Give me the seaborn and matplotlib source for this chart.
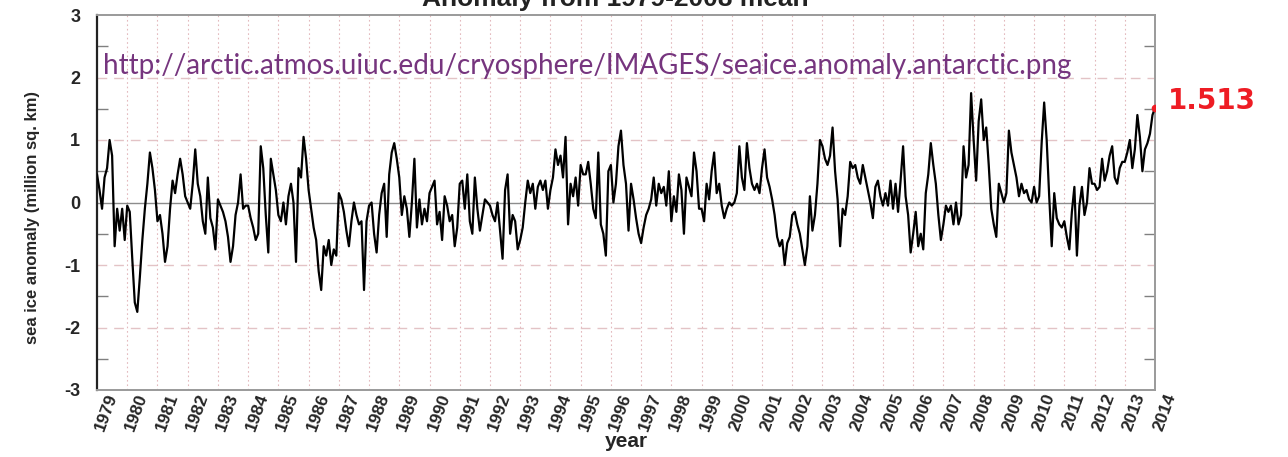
import matplotlib
matplotlib.use("Agg")
import matplotlib.pyplot as plt
import matplotlib.transforms as mtransforms
from matplotlib.ticker import MultipleLocator
import numpy as np
import pandas as pd
import seaborn as sns

# Antarctic sea ice extent anomaly (million sq. km), monthly, 1979-2013, plus the latest value
anomaly = [
    0.45, 0.2, -0.1, 0.4, 0.55, 1.0, 0.75, -0.7, -0.1, -0.45, -0.1, -0.6,      # 1979
    -0.05, -0.15, -0.9, -1.6, -1.75, -1.2, -0.6, -0.1, 0.3, 0.8, 0.55, 0.2,    # 1980
    -0.3, -0.2, -0.5, -0.95, -0.7, -0.1, 0.35, 0.15, 0.45, 0.7, 0.45, 0.1,     # 1981
    0.0, -0.1, 0.3, 0.85, 0.3, 0.1, -0.3, -0.5, 0.4, -0.25, -0.4, -0.75,       # 1982
    0.05, -0.05, -0.15, -0.3, -0.55, -0.95, -0.7, -0.2, 0.0, 0.45, -0.1, -0.05,  # 1983
    -0.05, -0.25, -0.4, -0.6, -0.5, 0.9, 0.55, -0.2, -0.8, 0.7, 0.45, 0.2,     # 1984
    -0.2, -0.3, 0.0, -0.35, 0.1, 0.3, 0.0, -0.95, 0.55, 0.4, 1.05, 0.7,        # 1985
    0.2, -0.1, -0.4, -0.6, -1.1, -1.4, -0.7, -0.85, -0.6, -1.0, -0.75, -0.85,  # 1986
    0.15, 0.05, -0.15, -0.45, -0.7, -0.3, 0.0, -0.2, -0.35, -0.3, -1.4, -0.3,  # 1987
    -0.05, 0.0, -0.5, -0.8, -0.2, 0.15, 0.3, -0.55, 0.45, 0.8, 0.95, 0.7,      # 1988
    0.4, -0.2, 0.1, -0.1, -0.55, 0.0, 0.7, -0.4, 0.05, -0.35, -0.1, -0.3,      # 1989
    0.15, 0.25, 0.35, -0.35, -0.15, -0.6, 0.1, -0.05, -0.3, -0.2, -0.7, -0.4,  # 1990
    0.3, 0.35, -0.1, 0.45, -0.3, -0.5, 0.4, -0.1, -0.45, -0.2, 0.05, 0.0,      # 1991
    -0.05, -0.2, -0.3, 0.0, -0.45, -0.9, 0.2, 0.45, -0.5, -0.2, -0.3, -0.75,   # 1992
    -0.6, -0.4, 0.0, 0.35, 0.15, 0.3, -0.1, 0.25, 0.35, 0.2, 0.35, -0.1,       # 1993
    0.2, 0.4, 0.85, 0.6, 0.75, 0.4, 1.05, -0.35, 0.3, 0.1, 0.4, -0.05,         # 1994
    0.6, 0.45, 0.45, 0.65, 0.3, -0.1, -0.25, 0.8, -0.35, -0.5, -0.85, 0.5,     # 1995
    0.6, 0.0, 0.3, 0.9, 1.15, 0.6, 0.3, -0.45, 0.3, 0.05, -0.25, -0.5,         # 1996
    -0.65, -0.4, -0.2, -0.1, 0.05, 0.4, -0.05, 0.3, 0.15, 0.25, -0.05, 0.5,    # 1997
    -0.3, 0.1, -0.15, 0.45, 0.2, -0.5, 0.4, 0.25, 0.1, 0.8, 0.5, -0.1,         # 1998
    -0.1, -0.3, 0.3, 0.05, 0.5, 0.8, 0.15, 0.3, -0.05, -0.25, -0.1, 0.0,       # 1999
    -0.05, 0.0, 0.15, 0.9, 0.4, 0.2, 0.95, 0.55, 0.3, 0.2, 0.3, 0.15,          # 2000
    0.55, 0.85, 0.4, 0.25, 0.05, -0.2, -0.55, -0.7, -0.6, -1.0, -0.65, -0.55,  # 2001
    -0.2, -0.15, -0.35, -0.5, -0.75, -1.0, -0.7, 0.1, -0.45, -0.2, 0.3, 1.0,   # 2002
    0.9, 0.7, 0.6, 0.75, 1.2, 0.5, 0.05, -0.7, -0.1, -0.2, 0.1, 0.65,          # 2003
    0.55, 0.6, 0.4, 0.3, 0.6, 0.4, 0.2, 0.0, -0.25, 0.25, 0.35, 0.1,           # 2004
    -0.05, 0.15, -0.05, 0.35, -0.1, 0.3, -0.15, 0.35, 0.9, 0.1, -0.2, -0.8,    # 2005
    -0.5, -0.15, -0.7, -0.5, -0.75, 0.15, 0.45, 0.95, 0.6, 0.3, -0.2, -0.6,    # 2006
    -0.35, -0.05, -0.15, -0.05, -0.35, 0.0, -0.35, -0.2, 0.9, 0.4, 0.6, 1.75,  # 2007
    1.0, 0.35, 1.3, 1.65, 1.0, 1.2, 0.6, -0.1, -0.35, -0.55, 0.3, 0.15,        # 2008
    0.0, 0.15, 1.15, 0.8, 0.6, 0.4, 0.1, 0.3, 0.15, 0.2, 0.05, 0.0,            # 2009
    0.25, 0.0, 0.1, 0.95, 1.6, 1.0, 0.1, -0.7, 0.15, -0.25, -0.35, -0.4,       # 2010
    -0.3, -0.55, -0.75, -0.15, 0.25, -0.85, -0.05, 0.25, -0.2, 0.0, 0.55, 0.3, # 2011
    0.3, 0.2, 0.25, 0.7, 0.35, 0.5, 0.75, 0.9, 0.4, 0.3, 0.55, 0.65,           # 2012
    0.65, 0.8, 1.0, 0.55, 0.85, 1.4, 1.05, 0.5, 0.85, 0.95, 1.1, 1.4,          # 2013
    1.513,                                                                      # 2014
]
latest_value = 1.513
year_ticks = list(range(1979, 2015))
year_labels = [str(y) for y in year_ticks]
y_ticks = [-3, -2, -1, 0, 1, 2, 3]

time = 1979 + np.arange(len(anomaly)) / 12.0
df = pd.DataFrame({"year": time, "anomaly": anomaly})

sns.set_theme(style="white")
plt.rcParams["font.family"] = ["Liberation Sans", "DejaVu Sans"]

W, H = 1288, 457
fig = plt.figure(figsize=(W / 100, H / 100), dpi=100)
ax = fig.add_axes([97 / W, 1 - 390 / H, (1155 - 97) / W, (390 - 15) / H])

# grid: dotted verticals each year, dashed horizontals at whole values
for yr in year_ticks[1:-1]:
    ax.axvline(yr, color="#e3b9bd", lw=0.8, ls=(0, (1.5, 2.5)), zorder=0)
for yv in [-2, -1, 1, 2]:
    ax.axhline(yv, color="#e3c3c6", lw=1.0, ls=(0, (7, 5)), zorder=0)
ax.axhline(0, color="#8c8c8c", lw=1.0, zorder=1)

sns.lineplot(data=df, x="year", y="anomaly", color="black", lw=1.6, ax=ax, zorder=3)
ax.plot([df["year"].iloc[-1]], [latest_value], "o", color="#ee1c24", ms=4.5, zorder=4)

ax.set_xlim(1979, 2014)
ax.set_ylim(-3, 3)
ax.set_yticks(y_ticks)
ax.set_yticklabels([str(v) for v in y_ticks], fontsize=13, fontweight="bold")
ax.yaxis.set_minor_locator(MultipleLocator(0.5))
ax.tick_params(axis="y", which="major", length=0, pad=12)
ax.tick_params(axis="y", which="minor", direction="in", length=8, width=1.0,
               color="#808080", left=True, right=True)
ax.set_xticks(year_ticks)
ax.set_xticklabels(year_labels, rotation=70, ha="right", va="center",
                   rotation_mode="anchor", fontsize=12.5, fontweight="bold")
ax.tick_params(axis="x", length=0, pad=3)
shift = mtransforms.ScaledTranslation(16 / 100, 0, fig.dpi_scale_trans)
for lab in ax.get_xticklabels():
    lab.set_transform(lab.get_transform() + shift)

for side in ["top", "right", "bottom"]:
    ax.spines[side].set_color("#9a9a9a")
    ax.spines[side].set_linewidth(1.4)
ax.spines["left"].set_color("#222222")
ax.spines["left"].set_linewidth(1.6)

ax.set_xlabel("year", fontsize=15, fontweight="bold")
ax.xaxis.set_label_coords(0.5, -0.113)
ax.set_ylabel("sea ice anomaly (million sq. km)", fontsize=12, fontweight="bold")
ax.yaxis.set_label_coords(-0.054, 0.46)

fig.text(615 / W, 1 - 6 / H, "Anomaly from 1979-2008 mean", ha="center",
         va="baseline", fontsize=19, fontweight="bold", color="#222222")
fig.text(103 / W, 1 - 66 / H,
         "http://arctic.atmos.uiuc.edu/cryosphere/IMAGES/seaice.anomaly.antarctic.png",
         ha="left", va="center", fontsize=20, color="#76357e",
         family=["Lato", "DejaVu Sans"])
fig.text(1168 / W, 1 - 101 / H, "1.513", ha="left", va="center", fontsize=20,
         fontweight="bold", color="#ee1c24", family=["DejaVu Sans"])

fig.savefig("out.png", dpi=100)
